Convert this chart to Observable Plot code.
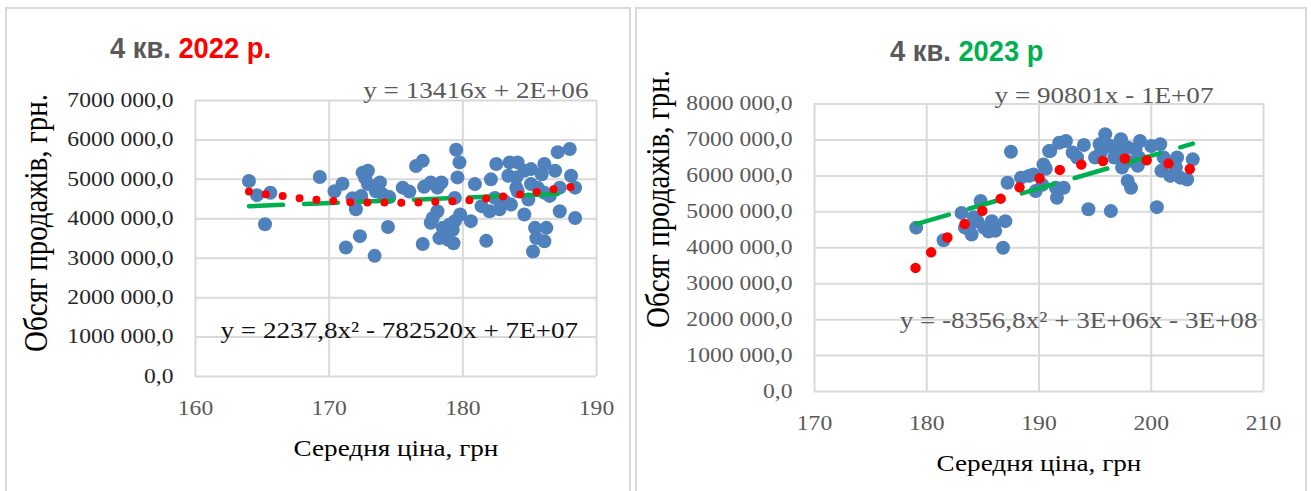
<!DOCTYPE html>
<html>
<head>
<meta charset="utf-8">
<script src="https://cdn.jsdelivr.net/npm/d3@7"></script>
<script src="https://cdn.jsdelivr.net/npm/@observablehq/plot@0.6"></script>
<style>
  html, body { margin: 0; padding: 0; background: #fff; }
  #page { position: relative; width: 1311px; height: 491px; overflow: hidden; background: #fff; }
  .panel { position: absolute; top: 7px; height: 520px; border: 2px solid #d9d9d9; box-sizing: border-box; background: #fff; }
  #page svg { position: absolute; left: 0; top: 0; }
  .title { position: absolute; font-family: "Liberation Sans", Arial, sans-serif; font-weight: bold; font-size: 30px; line-height: 1; white-space: nowrap; transform-origin: 0 50%; transform: translateY(-50%) scaleX(0.91); }
  .axis-title { position: absolute; font-family: "Liberation Serif", serif; color: #000; line-height: 1; white-space: nowrap; }
  .axis-title.x { font-size: 23px; transform: translate(-50%, -50%) scaleX(1.18); }
  .axis-title.y { font-size: 29px; transform: translate(-50%, -50%) scaleX(1.18) rotate(-90deg); }
</style>
</head>
<body>
<div id="page">
  <div class="panel" style="left:5px;width:626px"></div>
  <div class="panel" style="left:635px;width:672px"></div>
</div>
<script>
// ---- Q4 2022: average price (UAH) vs sales volume (UAH) ----
const price2022 = [
  164.0, 164.6, 165.6, 165.2, 169.3, 170.4, 171.0, 171.25, 171.75, 172.0,
  172.3, 172.5, 172.9, 172.7, 172.4, 173.4, 173.8, 173.5, 174.0, 174.4,
  174.5, 175.5, 176.0, 176.5, 177.0, 177.0, 177.1, 177.6, 178.4, 177.75,
  177.6, 178.1, 178.5, 178.25, 178.9, 179.3, 179.4, 179.5, 179.75, 179.6,
  179.4, 179.8, 180.6, 179.25, 180.9, 181.75, 182.1, 182.5, 182.0, 182.75,
  183.1, 183.5, 184.1, 183.4, 183.6, 184.6, 184.0, 184.6, 184.9, 185.1,
  185.4, 185.25, 185.5, 186.1, 186.25, 185.9, 186.1, 186.5, 186.9, 187.25,
  187.1, 188.0, 188.1, 188.4, 188.4, 187.25, 185.6, 184.0, 185.1, 182.4,
  182.9, 181.4, 178.1, 179.0, 172.9, 184.1, 186.1
];
const sales2022 = [
  4.96e6, 4.60e6, 4.66e6, 3.86e6, 5.06e6, 4.70e6, 4.89e6, 3.27e6, 4.52e6, 4.24e6,
  3.56e6, 5.17e6, 5.22e6, 5.03e6, 4.58e6, 3.06e6, 4.92e6, 4.70e6, 4.62e6, 3.79e6,
  4.55e6, 4.79e6, 4.69e6, 5.34e6, 5.47e6, 3.36e6, 4.81e6, 4.92e6, 4.92e6, 4.02e6,
  3.90e6, 4.19e6, 3.77e6, 3.51e6, 3.47e6, 3.38e6, 3.94e6, 5.75e6, 5.43e6, 5.05e6,
  4.53e6, 4.11e6, 3.94e6, 3.72e6, 4.88e6, 3.44e6, 5.00e6, 5.39e6, 4.19e6, 4.24e6,
  4.45e6, 5.43e6, 5.43e6, 5.09e6, 4.36e6, 5.22e6, 4.79e6, 4.11e6, 4.49e6, 4.88e6,
  3.77e6, 3.17e6, 3.51e6, 3.43e6, 3.77e6, 5.13e6, 5.39e6, 4.58e6, 5.22e6, 4.19e6,
  5.69e6, 5.77e6, 5.09e6, 4.79e6, 4.02e6, 4.79e6, 4.79e6, 5.05e6, 5.26e6, 4.53e6,
  4.41e6, 4.32e6, 4.79e6, 3.85e6, 4.88e6, 4.70e6, 4.66e6
];
// polynomial (2nd order) trend
const polyPrice2022 = [164.0, 165.25, 166.5, 167.85, 169.1, 170.4, 171.7, 173.1, 174.45, 175.8, 177.15, 178.45, 179.8, 181.1, 182.4, 183.7, 185.0, 186.25, 187.5, 188.4];
const polySales2022 = [4.69e6, 4.62e6, 4.58e6, 4.52e6, 4.48e6, 4.45e6, 4.42e6, 4.41e6, 4.41e6, 4.41e6, 4.42e6, 4.44e6, 4.45e6, 4.49e6, 4.54e6, 4.59e6, 4.65e6, 4.72e6, 4.78e6, 4.83e6];
// linear trend: slope as printed, intercept
const linSlope2022 = 13416;
const linIntercept2022 = 2.12e6;
const eqLinear2022 = "y = 13416x + 2E+06";
const eqPoly2022 = "y = 2237,8x\u00B2 - 782520x + 7E+07";
const xTicks2022 = [160, 170, 180, 190];
const xTickLabels2022 = ["160", "170", "180", "190"];
const yTicks2022 = [0, 1e6, 2e6, 3e6, 4e6, 5e6, 6e6, 7e6];
const yTickLabels2022 = ["0,0", "1000 000,0", "2000 000,0", "3000 000,0", "4000 000,0", "5000 000,0", "6000 000,0", "7000 000,0"];

// ---- Q4 2023 ----
const price2023 = [
  179.06, 181.5, 183.1, 183.4, 184.0, 184.8, 184.5, 185.1, 185.8, 186.1,
  187.0, 186.8, 187.5, 187.2, 188.4, 189.1, 189.5, 189.7, 190.4, 190.9,
  191.8, 191.0, 192.2, 191.6, 192.4, 193.0, 194.0, 193.4, 194.4, 196.4,
  200.5, 195.9, 195.5, 196.4, 197.3, 196.7, 197.9, 197.4, 197.9, 198.2,
  198.6, 198.9, 200.0, 200.8, 201.1, 200.9, 201.7, 202.3, 202.6, 203.2,
  203.7, 202.2, 198.8, 195.8, 197.0, 197.9, 195.0, 199.0, 195.4, 183.8,
  185.5, 186.0, 184.2, 190.3, 191.5, 190.6
];
const sales2023 = [
  4.56e6, 4.21e6, 4.97e6, 4.56e6, 4.37e6, 5.30e6, 4.74e6, 4.56e6, 4.74e6, 4.47e6,
  4.74e6, 4.00e6, 6.67e6, 5.81e6, 5.95e6, 6.00e6, 6.04e6, 5.58e6, 6.32e6, 6.69e6,
  6.92e6, 6.69e6, 5.67e6, 5.39e6, 6.97e6, 6.65e6, 6.86e6, 6.51e6, 5.07e6, 5.02e6,
  5.13e6, 7.16e6, 6.65e6, 6.83e6, 7.02e6, 6.51e6, 6.79e6, 6.23e6, 5.86e6, 5.67e6,
  6.74e6, 6.51e6, 6.83e6, 6.88e6, 6.51e6, 6.14e6, 6.00e6, 6.51e6, 5.95e6, 5.90e6,
  6.46e6, 6.23e6, 6.28e6, 6.79e6, 6.69e6, 6.41e6, 6.51e6, 6.97e6, 6.88e6, 4.60e6,
  4.45e6, 4.62e6, 4.85e6, 5.75e6, 5.67e6, 6.20e6
];
const polyPrice2023 = [179.0, 180.45, 181.9, 183.45, 185.0, 186.6, 188.2, 189.95, 191.6, 193.55, 195.45, 197.45, 199.45, 201.4, 203.2, 203.7];
const polySales2023 = [3.44e6, 3.89e6, 4.30e6, 4.68e6, 5.04e6, 5.37e6, 5.67e6, 5.92e6, 6.14e6, 6.30e6, 6.40e6, 6.48e6, 6.44e6, 6.35e6, 6.21e6, 6.17e6];
const linSlope2023 = 90801;
const linIntercept2023 = -11.6e6;
const eqLinear2023 = "y = 90801x - 1E+07";
const eqPoly2023 = "y = -8356,8x\u00B2 + 3E+06x - 3E+08";
const xTicks2023 = [170, 180, 190, 200, 210];
const xTickLabels2023 = ["170", "180", "190", "200", "210"];
const yTicks2023 = [0, 1e6, 2e6, 3e6, 4e6, 5e6, 6e6, 7e6, 8e6];
const yTickLabels2023 = ["0,0", "1000 000,0", "2000 000,0", "3000 000,0", "4000 000,0", "5000 000,0", "6000 000,0", "7000 000,0", "8000 000,0"];

const PAGE_W = 1311, PAGE_H = 491;
const SERIF = "Liberation Serif, Times New Roman, serif";
const STRETCH = 1.18;

function zipPoints(xs, ys) {
  return xs.map((x, i) => ({price: x, sales: ys[i]}));
}

// widen every label horizontally around its own anchor
function stretchText(svg, k) {
  svg.querySelectorAll("text").forEach((t) => {
    const tr = t.getAttribute("transform");
    if (tr) t.setAttribute("transform", `${tr} scale(${k},1)`);
  });
}

function scatterChart(cfg) {
  const points = zipPoints(cfg.price, cfg.sales);
  const curve = zipPoints(cfg.polyPrice, cfg.polySales);
  const [xmin, xmax] = d3.extent(cfg.price);
  const linear = [xmin, xmax].map((x) => ({price: x, sales: cfg.slope * x + cfg.intercept}));
  const f = cfg.frame;
  const svg = Plot.plot({
    width: PAGE_W,
    height: PAGE_H,
    marginLeft: f.left,
    marginRight: PAGE_W - f.right,
    marginTop: f.top,
    marginBottom: PAGE_H - f.bottom,
    style: "background: transparent; overflow: visible;",
    x: {domain: cfg.xDomain, axis: null},
    y: {domain: cfg.yDomain, axis: null},
    marks: [
      Plot.ruleX(cfg.xTicks, {stroke: "#d9d9d9", strokeWidth: 2}),
      Plot.ruleY(cfg.yTicks, {stroke: "#d9d9d9", strokeWidth: 2}),
      Plot.text(cfg.yTicks, {
        y: (d) => d, text: (d, i) => cfg.yTickLabels[i],
        frameAnchor: "left", textAnchor: "end", dx: -22,
        fill: cfg.yTickColor, fontSize: 20, fontFamily: SERIF
      }),
      Plot.text(cfg.xTicks, {
        x: (d) => d, text: (d, i) => cfg.xTickLabels[i],
        frameAnchor: "bottom", lineAnchor: "middle", dy: 32,
        fill: "#595959", fontSize: 20, fontFamily: SERIF
      }),
      Plot.dot(points, {x: "price", y: "sales", r: 7, fill: "#4f81bd"}),
      Plot.line(linear, {
        x: "price", y: "sales", stroke: "#00b050", strokeWidth: 4.5,
        strokeDasharray: "34 21", strokeLinecap: "round"
      }),
      Plot.line(curve, {
        x: "price", y: "sales", curve: "natural", stroke: "#ff0000",
        strokeWidth: cfg.dotWidth, strokeDasharray: `0 ${cfg.dotGap}`, strokeLinecap: "round"
      }),
      Plot.text([cfg.eqLinear], {
        text: (d) => d, frameAnchor: "top-right", textAnchor: "end", lineAnchor: "middle",
        dx: cfg.eqLinearPos[0], dy: cfg.eqLinearPos[1],
        fill: "#595959", fontSize: 23, fontFamily: SERIF
      }),
      Plot.text([cfg.eqPoly], {
        text: (d) => d, frameAnchor: cfg.eqPolyAnchor, textAnchor: cfg.eqPolyTextAnchor, lineAnchor: "middle",
        dx: cfg.eqPolyPos[0], dy: cfg.eqPolyPos[1],
        fill: cfg.eqPolyColor, fontSize: 23, fontFamily: SERIF
      })
    ]
  });
  stretchText(svg, STRETCH);
  return svg;
}

const page = document.getElementById("page");

page.appendChild(scatterChart({
  price: price2022, sales: sales2022,
  polyPrice: polyPrice2022, polySales: polySales2022,
  slope: linSlope2022, intercept: linIntercept2022,
  xDomain: [160, 190], yDomain: [0, 7e6],
  xTicks: xTicks2022, xTickLabels: xTickLabels2022,
  yTicks: yTicks2022, yTickLabels: yTickLabels2022,
  yTickColor: "#262626",
  frame: {left: 195, right: 596, top: 100, bottom: 376},
  dotWidth: 8, dotGap: 17,
  eqLinear: eqLinear2022, eqLinearPos: [-8, -10],
  eqPoly: eqPoly2022, eqPolyAnchor: "bottom-left", eqPolyTextAnchor: "start",
  eqPolyPos: [25, -46], eqPolyColor: "#111"
}));

page.appendChild(scatterChart({
  price: price2023, sales: sales2023,
  polyPrice: polyPrice2023, polySales: polySales2023,
  slope: linSlope2023, intercept: linIntercept2023,
  xDomain: [170, 210], yDomain: [0, 8e6],
  xTicks: xTicks2023, xTickLabels: xTickLabels2023,
  yTicks: yTicks2023, yTickLabels: yTickLabels2023,
  yTickColor: "#595959",
  frame: {left: 814, right: 1263, top: 103.5, bottom: 391},
  dotWidth: 10.5, dotGap: 22,
  eqLinear: eqLinear2023, eqLinearPos: [-50, -8],
  eqPoly: eqPoly2023, eqPolyAnchor: "bottom-right", eqPolyTextAnchor: "end",
  eqPolyPos: [-6, -71], eqPolyColor: "#595959"
}));

// titles and axis names
function addHtml(html) {
  const tmp = document.createElement("div");
  tmp.innerHTML = html;
  page.appendChild(tmp.firstElementChild);
}
addHtml('<div class="title" style="left:110px;top:48px"><span style="color:#595959">4 кв. </span><span style="color:#ff0000">2022 р.</span></div>');
addHtml('<div class="title" style="left:890px;top:51px"><span style="color:#595959">4 кв. </span><span style="color:#00b050">2023 р</span></div>');
addHtml('<div class="axis-title y" style="left:36px;top:223px">Обсяг продажів, грн.</div>');
addHtml('<div class="axis-title y" style="left:658px;top:199px">Обсяг продажів, грн.</div>');
addHtml('<div class="axis-title x" style="left:396px;top:448px">Середня ціна, грн</div>');
addHtml('<div class="axis-title x" style="left:1039px;top:463px">Середня ціна, грн</div>');
</script>
</body>
</html>
